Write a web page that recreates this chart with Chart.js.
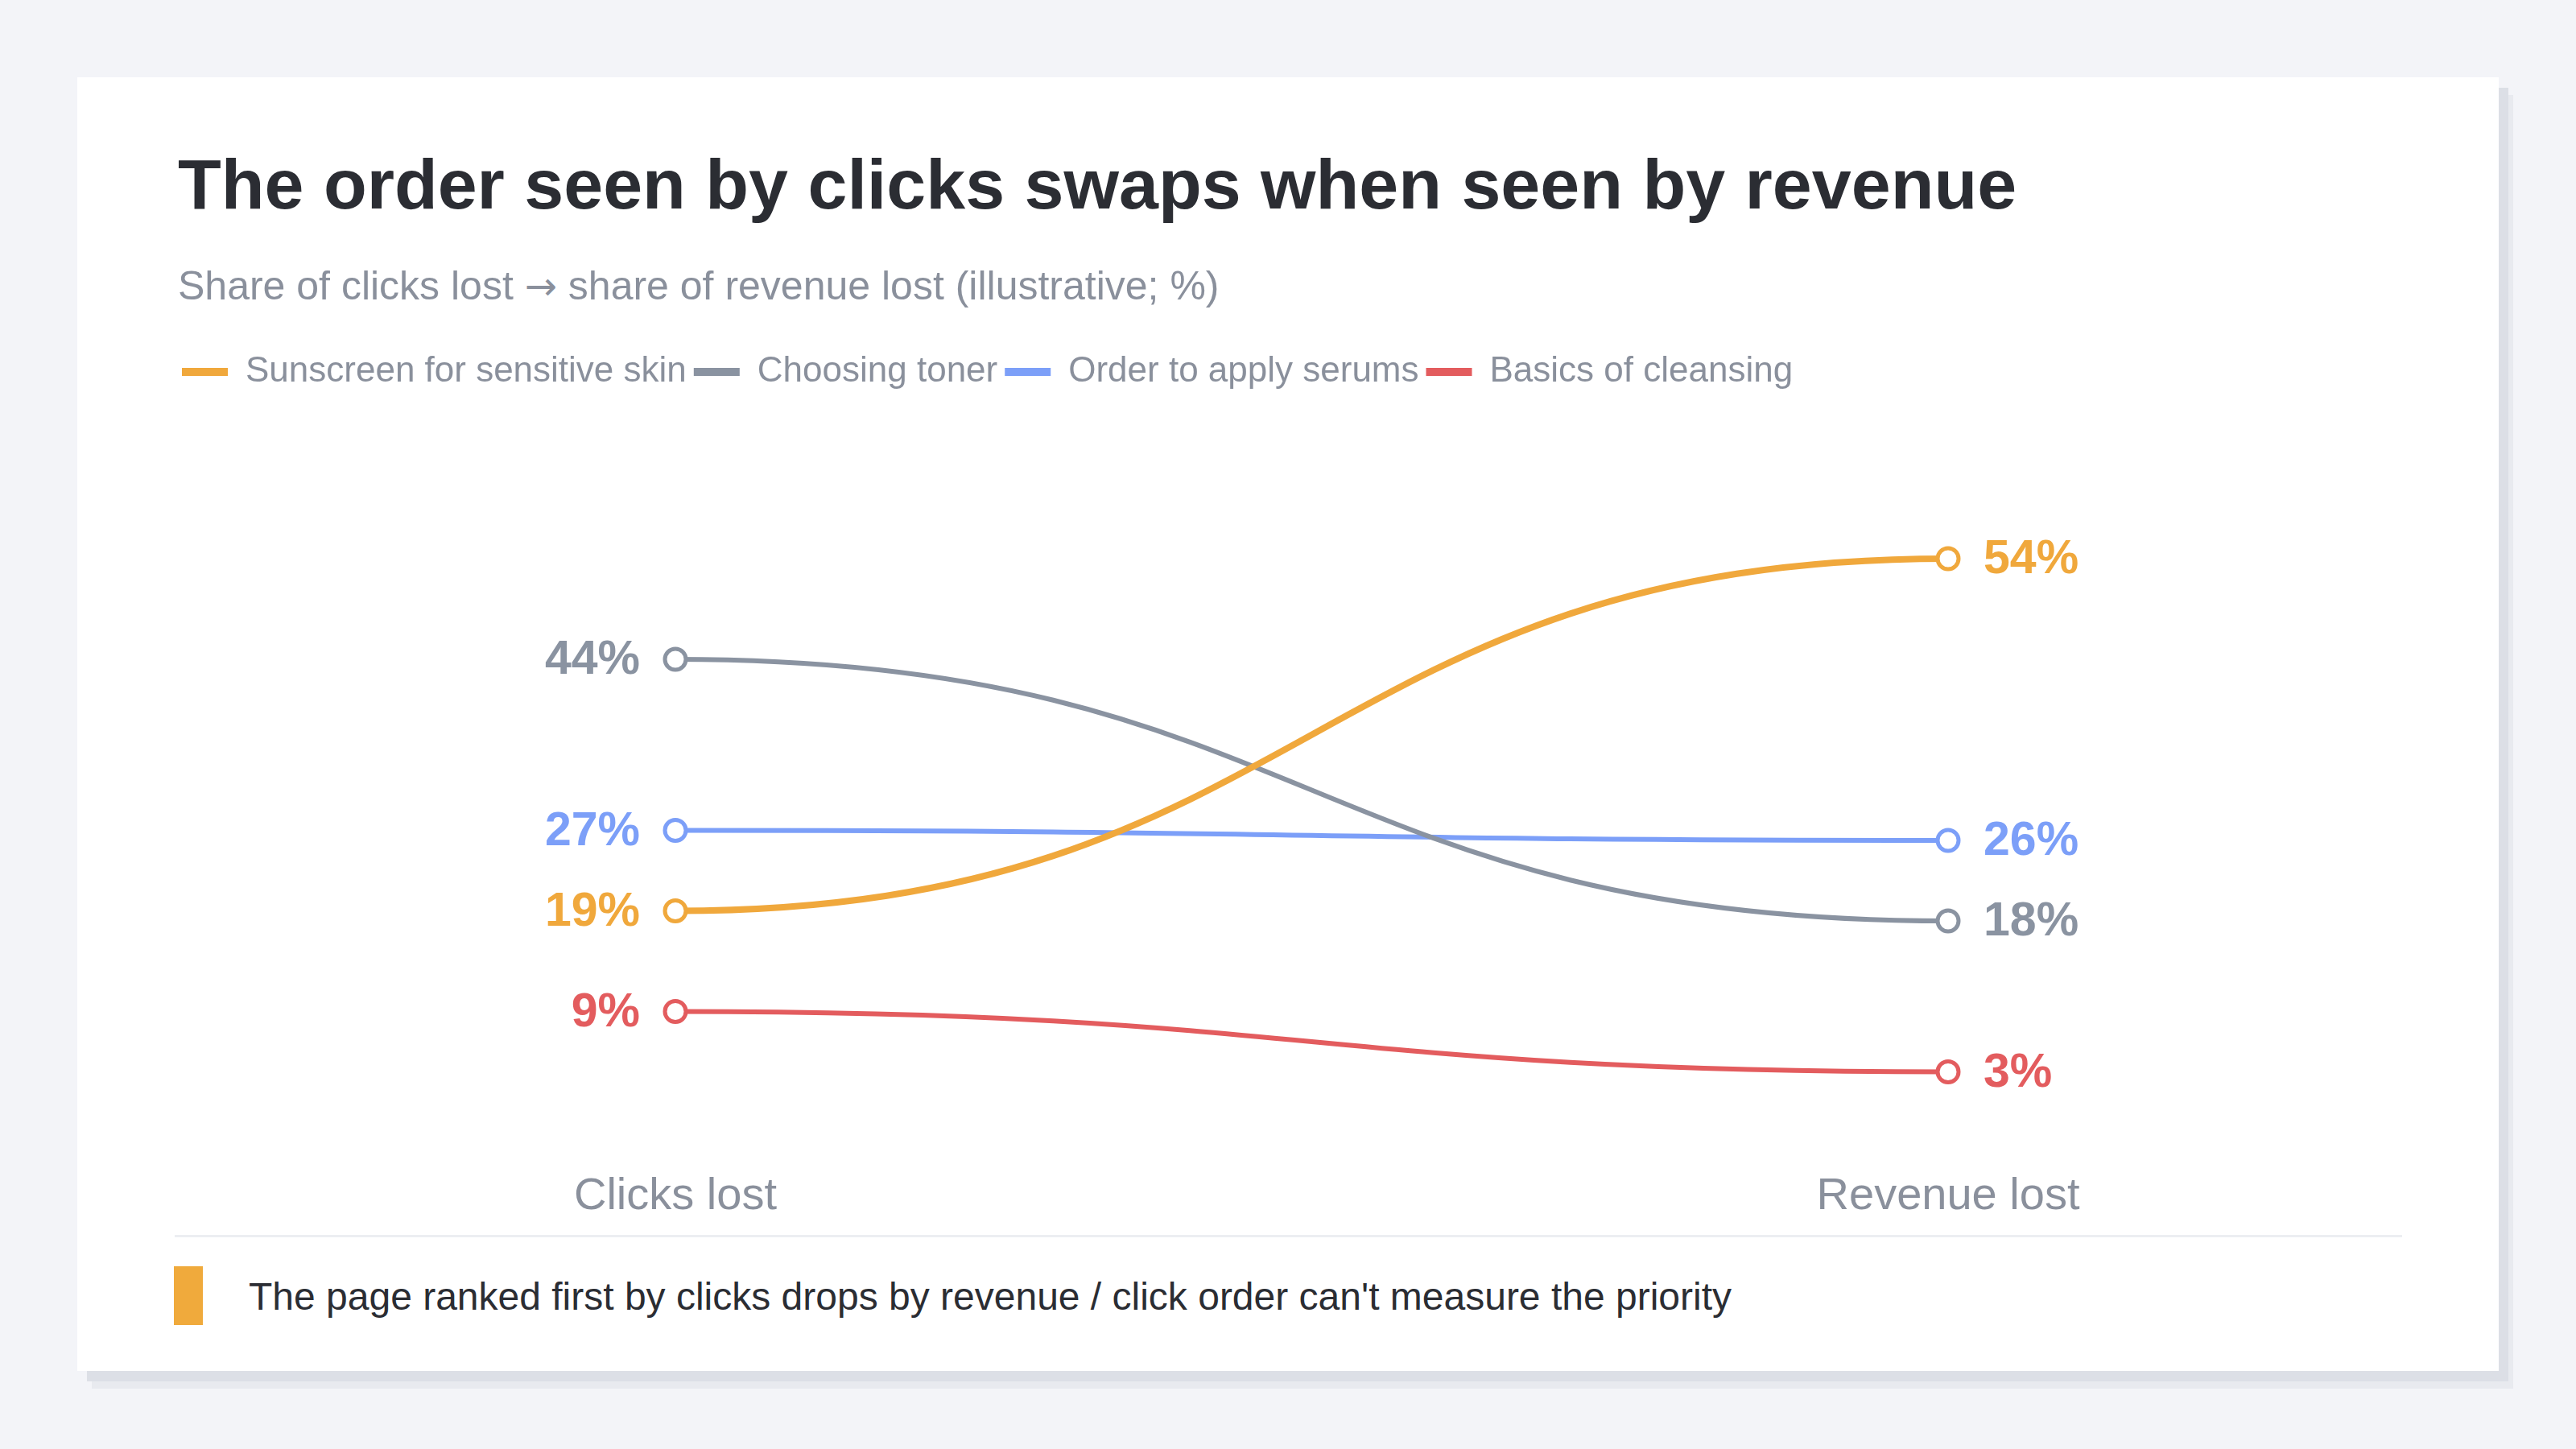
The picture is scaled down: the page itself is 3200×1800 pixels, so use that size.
<!DOCTYPE html>
<html lang="en">
<head>
  <meta charset="UTF-8">
  <title>Clicks lost vs revenue lost</title>
  <script src="https://cdn.jsdelivr.net/npm/chart.js"></script>
  <style>
    html, body { margin: 0; padding: 0; }
    body {
      width: 3200px; height: 1800px; overflow: hidden; position: relative;
      background: #f3f4f8;
      font-family: "Liberation Sans", Arial, Helvetica, sans-serif;
    }
    .card {
      position: absolute; left: 96px; top: 96px; width: 3008px; height: 1607px;
      background: #fff;
      box-shadow: 12px 13px 0 #dcdfe6, 18px 22px 0 #e8eaef;
    }
    h1 {
      position: absolute; left: 125px; top: 89px; margin: 0;
      font-size: 88px; line-height: 1; font-weight: 700; color: #2b2d33; white-space: nowrap;
    }
    .sub {
      position: absolute; left: 125px; top: 234px; margin: 0;
      font-size: 50px; line-height: 1; color: #8a909c; white-space: nowrap;
    }
    .sub .arr { font-family: "DejaVu Sans", sans-serif; font-size: 48px; }
    #wrap { position: absolute; left: 104px; top: 304px; width: 2800px; height: 1118px; }
    .rule { position: absolute; left: 121px; top: 1438px; width: 2767px; height: 3px; background: #eceef2; }
    .note-bar { position: absolute; left: 120px; top: 1477px; width: 36px; height: 73px; background: #f0aa3c; }
    .note {
      position: absolute; left: 213px; top: 1491px;
      font-size: 48px; line-height: 1; color: #2b2d33; white-space: nowrap;
    }
  </style>
</head>
<body>
  <div class="card">
    <h1>The order seen by clicks swaps when seen by revenue</h1>
    <div class="sub">Share of clicks lost <span class="arr">→</span> share of revenue lost (illustrative; %)</div>
    <div id="wrap"><canvas id="chart" width="2800" height="1118"></canvas></div>
    <div class="rule"></div>
    <div class="note-bar"></div>
    <div class="note">The page ranked first by clicks drops by revenue / click order can't measure the priority</div>
  </div>

  <script>
    // data
    const categories = ['Clicks lost', 'Revenue lost'];
    const seriesNames = ['Sunscreen for sensitive skin', 'Choosing toner', 'Order to apply serums', 'Basics of cleansing'];
    const sunscreen = [19, 54];
    const toner = [44, 18];
    const serums = [27, 26];
    const cleansing = [9, 3];

    const colors = ['#f0a83c', '#8a93a1', '#7c9ff8', '#e35c5e'];
    const widths = [8, 6, 6, 6];
    const values = [sunscreen, toner, serums, cleansing];

    Chart.defaults.font.family = '"Liberation Sans", Arial, Helvetica, sans-serif';

    // horizontal tangents at both ends, like a bump curve between the two columns
    const bumpCurve = {
      id: 'bumpCurve',
      beforeDatasetDraw(chart, args) {
        const line = args.meta.dataset;
        const pts = args.meta.data;
        line.updateControlPoints(chart.chartArea, 'x');
        for (let k = 0; k < pts.length - 1; k++) {
          const a = pts[k], b = pts[k + 1];
          const mx = (a.x + b.x) / 2;
          a.cp2x = mx; a.cp2y = a.y;
          b.cp1x = mx; b.cp1y = b.y;
        }
        line._path = undefined;
      }
    };

    // value labels on both sides
    const endLabels = {
      id: 'endLabels',
      afterDatasetsDraw(chart) {
        const ctx = chart.ctx;
        ctx.save();
        ctx.font = 'bold 59px "Liberation Sans", Arial, sans-serif';
        ctx.textBaseline = 'middle';
        chart.data.datasets.forEach((ds, i) => {
          chart.getDatasetMeta(i).data.forEach((pt, j) => {
            ctx.fillStyle = ds.borderColor;
            ctx.textAlign = j === 0 ? 'right' : 'left';
            ctx.fillText(ds.data[j] + '%', pt.x + (j === 0 ? -44 : 44), pt.y + 2);
          });
        });
        ctx.restore();
      }
    };

    const hidden = {
      display: true,
      ticks: { display: false },
      grid: { display: false },
      border: { display: false }
    };

    new Chart(document.getElementById('chart'), {
      type: 'line',
      data: {
        labels: categories,
        datasets: seriesNames.map((name, i) => ({
          label: name,
          data: values[i],
          borderColor: colors[i],
          backgroundColor: colors[i],
          borderWidth: widths[i],
          tension: 0.4,
          pointRadius: 13,
          pointBorderWidth: 5,
          pointBackgroundColor: '#fff',
          pointBorderColor: colors[i]
        }))
      },
      options: {
        responsive: false,
        animation: false,
        events: [],
        layout: { padding: { left: 17, top: 31, right: 0, bottom: 0 } },
        plugins: {
          tooltip: { enabled: false },
          legend: {
            align: 'start',
            labels: {
              boxWidth: 57,
              boxHeight: 10,
              padding: 9,
              color: '#8a909c',
              font: { size: 44 },
              generateLabels(chart) {
                return Chart.defaults.plugins.legend.labels.generateLabels(chart).map(l => {
                  l.fillStyle = l.strokeStyle;
                  l.lineWidth = 0;
                  return l;
                });
              }
            }
          }
        },
        scales: {
          x: {
            offset: false,
            grid: { display: false },
            border: { display: false },
            ticks: { color: '#8a909c', font: { size: 56 }, padding: 76, maxRotation: 0 },
            afterFit(s) { s.height = 149; }
          },
          y: Object.assign({}, hidden, {
            position: 'left', min: 0, max: 70,
            afterFit(s) { s.width = 622; }
          }),
          yR: Object.assign({}, hidden, {
            position: 'right', min: 0, max: 70,
            afterFit(s) { s.width = 580; }
          })
        }
      },
      plugins: [bumpCurve, endLabels]
    });
  </script>
</body>
</html>
